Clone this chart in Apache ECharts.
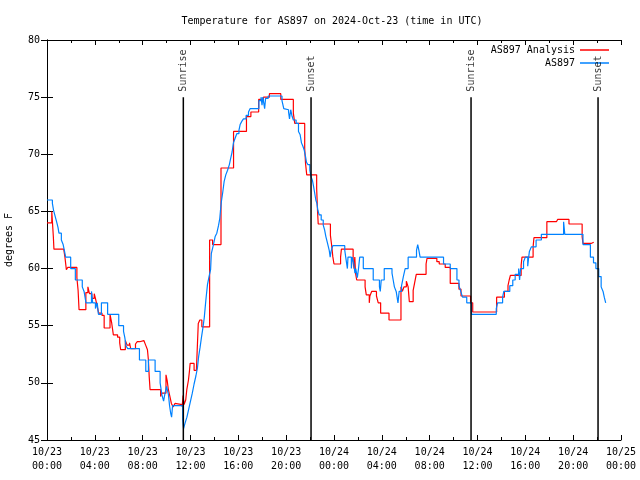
<!DOCTYPE html>
<html><head><meta charset="utf-8">
<script src="https://cdn.jsdelivr.net/npm/echarts@6/dist/echarts.min.js"></script>
<style>html,body{margin:0;padding:0;background:#fff}#c{width:640px;height:480px}</style>
</head><body><div id="c"></div><script>
const titleText = 'Temperature for AS897 on 2024-Oct-23 (time in UTC)';
const yAxisName = 'degrees F';
const xTickLabels = ['10/23\n00:00','10/23\n04:00','10/23\n08:00','10/23\n12:00','10/23\n16:00','10/23\n20:00',
  '10/24\n00:00','10/24\n04:00','10/24\n08:00','10/24\n12:00','10/24\n16:00','10/24\n20:00','10/25\n00:00'];
const seriesNames = ['AS897 Analysis', 'AS897'];

// hours since 10/23 00:00 UTC
const analysisTime = [0,0.4,0.53,0.58,1.4,1.5,1.62,1.73,2.5,2.6,2.68,3.25,3.42,3.55,3.75,3.95,4.05,4.2,4.32,4.6,4.78,5.27,5.4,5.55,5.9,6.08,6.16,6.55,6.7,6.9,7.0,7.4,7.55,7.75,8.1,8.25,8.4,8.48,8.55,8.62,9.5,9.6,9.95,10.05,10.15,10.28,10.4,10.55,10.7,10.85,11.3,11.38,11.46,11.6,11.69,11.83,11.91,11.97,12.3,12.5,12.65,12.78,12.95,13.6,13.85,14.55,15.6,16.68,17.05,17.7,18.1,18.6,19.55,20.6,20.72,21.55,21.62,21.72,22.55,22.62,22.68,23.7,23.8,23.9,24.0,24.55,24.62,25.6,25.68,25.74,25.8,25.9,26.6,26.7,26.95,27.0,27.15,27.55,27.7,27.9,28.6,29.6,29.72,29.85,30.05,30.2,30.3,30.62,30.75,30.88,31.7,31.78,32.6,32.8,33.3,33.72,34.45,34.62,35.42,35.6,37.6,38.25,38.55,38.65,38.75,39.65,39.72,40.65,40.72,41.8,42.6,42.7,43.65,44.75,44.82,45.5,45.72];
const analysisTemp = [64.0,65.0,62.8,61.7,61.6,61.0,59.9,60.1,59.2,58.1,56.4,57.9,58.4,57.8,57.4,57.8,57.4,56.7,56.1,55.9,54.8,56.0,55.3,54.2,54.0,53.5,52.9,53.7,53.3,53.5,53.0,53.4,53.6,53.7,53.6,53.3,52.9,52.0,50.5,49.4,48.8,49.1,50.7,50.2,49.4,48.8,48.2,47.9,48.2,48.1,47.9,48.9,48.1,48.5,49.4,50.25,51.0,51.7,51.1,51.3,55.2,55.5,54.9,62.5,62.1,68.8,72.0,73.3,73.7,74.8,75.0,75.3,74.8,73.6,72.7,70.5,69.2,68.2,67.0,65.1,63.9,62.9,62.06,61.04,60.4,61.0,61.7,60.6,60.0,61.0,59.6,59.0,58.4,57.7,57.0,57.6,58.0,57.6,57.0,56.1,55.5,58.4,58.0,58.4,58.9,58.4,57.1,58.1,58.8,59.5,60.4,60.9,60.6,60.4,60.1,58.7,58.2,57.6,57.0,56.2,57.5,58.0,58.5,59.0,59.4,60.3,61.0,61.9,62.7,64.1,64.2,64.3,63.9,62.8,62.2,62.3,62.3];

const obsTime = [0,0.45,0.55,0.65,0.8,0.92,1.0,1.2,1.35,1.45,1.56,1.98,2.37,2.95,3.1,3.26,3.72,3.82,4.05,4.2,4.3,4.55,5.07,6.0,6.4,6.5,6.62,6.75,7.73,8.26,8.48,9.04,9.46,9.6,9.75,9.85,10.0,10.15,10.25,10.35,10.42,10.5,11.35,11.42,11.55,11.7,11.85,12.0,12.15,12.3,12.45,12.58,12.68,12.8,12.92,13.05,13.15,13.22,13.3,13.42,13.55,13.68,13.74,13.9,14.06,14.2,14.35,14.45,14.5,14.58,14.7,14.81,14.95,15.1,15.25,15.35,15.48,15.59,15.73,15.87,16.05,16.15,16.3,16.43,16.65,16.85,16.99,17.72,17.9,17.98,18.05,18.2,18.28,18.5,19.65,19.8,19.95,20.2,20.28,20.38,20.5,20.6,20.83,21.03,21.17,21.28,21.4,21.5,21.62,21.7,21.81,21.98,22.09,22.2,22.29,22.37,22.48,22.57,22.65,22.76,22.93,23.1,23.21,23.32,23.46,23.6,23.68,23.75,23.9,24.9,24.98,25.05,25.12,25.17,25.45,25.52,25.65,25.75,25.82,25.95,26.05,26.15,26.45,27.28,27.8,27.87,27.95,28.2,28.85,28.95,29.05,29.2,29.35,29.45,29.65,29.8,29.95,30.2,30.9,31.0,31.1,31.2,33.16,33.72,34.28,34.45,34.6,34.75,35.1,35.5,37.57,37.68,38.1,38.2,38.7,38.95,39.15,39.44,39.52,39.6,39.85,40.0,40.2,40.28,40.34,40.5,40.9,41.34,43.2,43.3,44.82,45.44,45.7,45.9,46.14,46.34,46.5,46.6,46.72];
const obsTemp = [66.0,65.7,65.1,64.7,64.1,63.6,63.1,62.5,62.1,61.6,61.0,60.0,59.0,58.4,58.0,57.0,58.0,57.0,56.5,57.0,56.0,57.0,56.0,55.0,54.5,54.0,53.2,53.0,52.0,51.0,52.0,51.0,50.0,49.0,48.4,49.0,49.7,49.0,48.0,47.3,47.0,48.0,46.8,46.0,46.5,47.0,47.7,48.4,49.1,49.9,50.6,51.3,52.3,53.1,54.0,54.9,55.7,56.5,57.4,58.6,59.3,59.9,61.3,62.0,62.8,63.1,63.8,64.4,65.0,65.85,66.7,67.6,68.2,68.6,69.1,69.6,70.2,71.0,71.4,71.8,72.1,72.6,72.9,73.1,73.4,73.7,74.0,74.7,75.0,74.3,75.0,74.0,74.9,75.1,74.7,74.0,73.9,73.7,73.1,73.9,73.3,73.0,72.7,72.0,71.7,71.0,70.7,70.4,69.8,69.3,69.1,68.6,68.0,67.7,67.2,66.7,66.0,65.7,65.1,64.7,64.25,63.8,63.4,62.8,62.2,61.6,61.0,61.5,62.0,61.6,61.0,60.5,60.0,61.0,60.0,61.0,60.5,59.6,60.0,59.2,60.0,61.0,60.0,59.0,58.4,58.0,59.0,60.0,59.6,59.0,58.4,58.0,57.0,58.0,58.5,59.3,60.0,61.0,61.6,62.1,61.6,61.0,60.4,60.0,59.0,58.5,58.0,57.5,57.0,56.0,56.5,57.0,57.5,58.0,58.5,59.0,59.5,60.0,59.0,60.0,60.6,61.0,60.2,61.0,61.5,61.9,62.5,63.0,64.1,63.0,62.1,61.0,60.5,60.0,59.3,58.4,58.0,57.5,57.0];

const sunNames = ['Sunrise', 'Sunset', 'Sunrise', 'Sunset'];
const sunTimes = [11.4, 22.08, 35.46, 46.08];

const FONT = 'DejaVu Sans Mono';
const zip = (a, b) => a.map((t, i) => [t, b[i]]);

const series = [
  { name: seriesNames[0], type: 'line', step: 'end', symbol: 'none', data: zip(analysisTime, analysisTemp),
    lineStyle: { color: '#ff0000', width: 1.2 }, itemStyle: { color: '#ff0000' }, z: 3 },
  { name: seriesNames[1], type: 'line', step: 'end', symbol: 'none', data: zip(obsTime, obsTemp),
    lineStyle: { color: '#0082ff', width: 1.2 }, itemStyle: { color: '#0082ff' }, z: 4 }
];
sunTimes.forEach((t, i) => {
  series.push({ type: 'line', symbol: 'none', silent: true, data: [[t, 45], [t, 75]],
    lineStyle: { color: '#000', width: 1.5 }, z: 5 });
});
series.push({ type: 'scatter', silent: true, symbolSize: 1, itemStyle: { color: 'rgba(0,0,0,0)' },
  data: sunTimes.map((t, i) => ({ value: [t, 75], name: sunNames[i] })),
  label: { show: true, position: 'top', distance: 5, rotate: 90, align: 'left', verticalAlign: 'middle',
    formatter: '{b}', fontFamily: FONT, fontSize: 10, color: '#000' }, z: 6 });

const chart = echarts.init(document.getElementById('c'), null, { renderer: 'canvas' });
chart.setOption({
  animation: false,
  backgroundColor: '#fff',
  title: { text: titleText, left: 327, textAlign: 'center', top: 11,
    textStyle: { fontFamily: FONT, fontSize: 10, fontWeight: 'normal', color: '#000' } },
  legend: { data: seriesNames.map(n => ({ name: n, icon: 'rect' })), orient: 'vertical', right: 26, top: 40, align: 'right',
    itemWidth: 29, itemHeight: 1.5, itemGap: 3,
    textStyle: { fontFamily: FONT, fontSize: 10, color: '#000' } },
  grid: { left: 47, right: 19, top: 40, bottom: 40, containLabel: false, outerBoundsMode: 'none' },
  xAxis: [
    { type: 'value', min: 0, max: 48, interval: 4, position: 'bottom',
      axisLine: { show: true, lineStyle: { color: '#000', width: 1 } },
      axisTick: { show: true, inside: true, length: 5, lineStyle: { color: '#000' } },
      minorTick: { show: true, splitNumber: 2, length: 3, lineStyle: { color: '#000' } },
      splitLine: { show: false },
      axisLabel: { formatter: v => xTickLabels[Math.round(v / 4)], fontFamily: FONT, fontSize: 10, color: '#000', margin: 5, lineHeight: 14 } },
    { type: 'value', min: 0, max: 48, interval: 4, position: 'top',
      axisLine: { show: true, lineStyle: { color: '#000', width: 1 } },
      axisTick: { show: true, inside: true, length: 5, lineStyle: { color: '#000' } },
      minorTick: { show: true, splitNumber: 2, length: 3, lineStyle: { color: '#000' } },
      splitLine: { show: false }, axisLabel: { show: false } }
  ],
  yAxis: [
    { type: 'value', min: 45, max: 80, interval: 5, position: 'left',
      axisLine: { show: true, lineStyle: { color: '#000', width: 1 } },
      axisTick: { show: true, inside: true, length: 6, lineStyle: { color: '#000' } },
      splitLine: { show: false },
      axisLabel: { fontFamily: FONT, fontSize: 10, color: '#000', margin: 7 },
      name: yAxisName, nameLocation: 'middle', nameGap: 33, nameRotate: 90,
      nameTextStyle: { fontFamily: FONT, fontSize: 10, color: '#000' } },
    { type: 'value', min: 45, max: 80, interval: 5, position: 'right',
      axisLine: { show: true, lineStyle: { color: '#000', width: 1 } },
      axisTick: { show: true, inside: true, length: 6, lineStyle: { color: '#000' } },
      splitLine: { show: false }, axisLabel: { show: false } }
  ],
  series: series
});
</script></body></html>
